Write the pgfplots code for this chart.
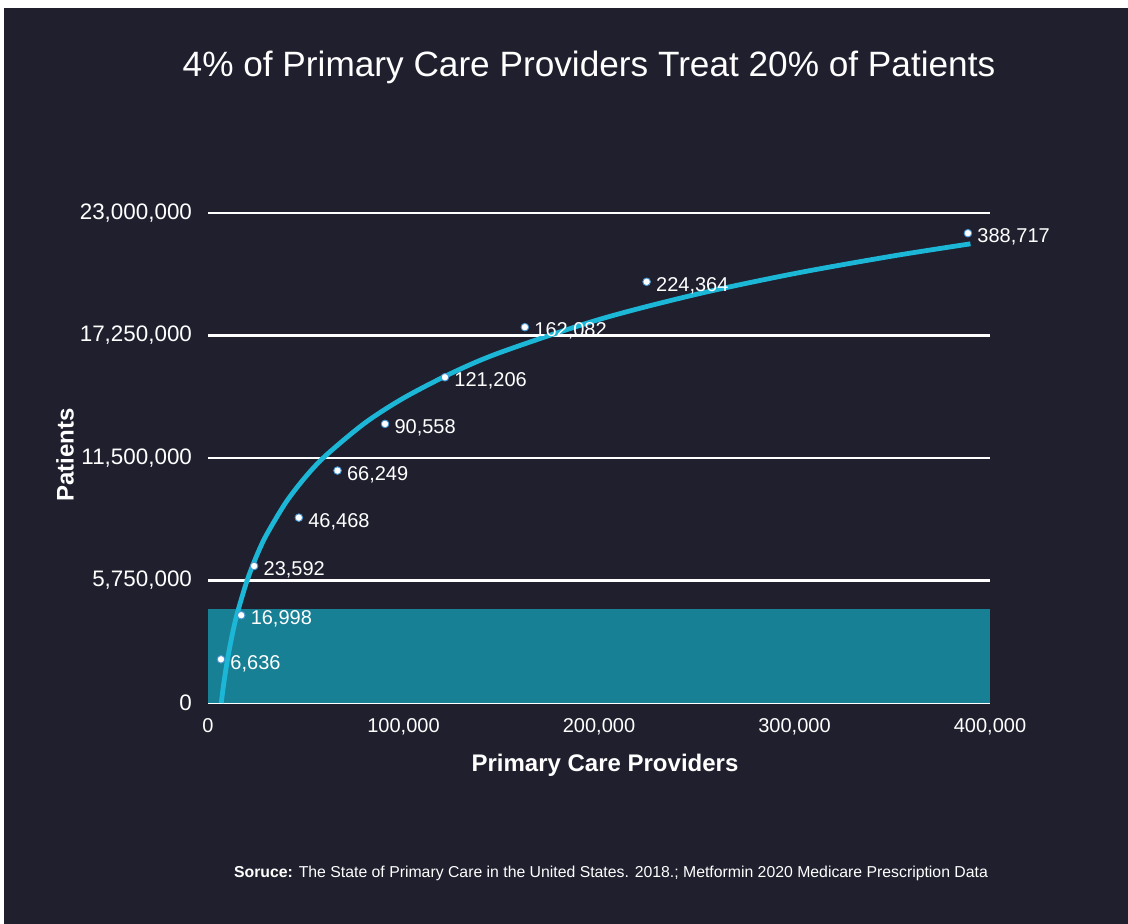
\documentclass[border=0pt]{standalone}
\usepackage{pgfplots}
\pgfplotsset{compat=1.18}
\usepackage{fontspec}
\setmainfont{Liberation Sans}
\definecolor{bg}{RGB}{31,31,46}
\definecolor{tealbox}{RGB}{24,128,148}
\definecolor{curvec}{RGB}{28,182,214}
\definecolor{markedge}{RGB}{70,150,210}
\begin{document}
\begin{tikzpicture}[x=1pt,y=1pt]
\fill[white] (0,0) rectangle (564,462);
\fill[bg] (2,0) rectangle (564,458);
\begin{axis}[
  at={(104pt,110.5pt)}, anchor=south west,
  scale only axis, width=391pt, height=245pt,
  xmin=0, xmax=400000, ymin=0, ymax=23000000,
  axis line style={draw=none},
  tick style={draw=none},
  xtick={0,100000,200000,300000,400000},
  ytick={0,5750000,11500000,17250000,23000000},
  scaled x ticks=false, scaled y ticks=false,
  /pgf/number format/fixed,
  /pgf/number format/1000 sep={,},
  /pgf/number format/assume math mode=true,
  ymajorgrids, grid style={white, line width=1.1pt},
  ticklabel style={font=\fontsize{10}{12}\selectfont, text=white},
  xticklabel style={yshift=-4pt},
  yticklabel style={xshift=-4.5pt, font=\fontsize{11.2}{13}\selectfont},
  clip=false,
]
\addplot[fill=tealbox, draw=none] coordinates {(0,4400000) (400000,4400000)} \closedcycle;
\addplot[curvec, line width=2.4pt, smooth] coordinates {
(6786,0) (8000,876000) (10000,2063000) (12500,3250000) (15000,4220000)
(20000,5750000) (25000,6937000) (30000,7908000) (40000,9438000)
(50000,10625000) (60000,11595000) (80000,13126000) (100000,14312000)
(125000,15500000) (150000,16470000) (200000,18000000) (250000,19187000)
(300000,20157000) (350000,20977000) (390000,21553000)};
\addplot[only marks, mark=*, mark size=1.9pt,
  mark options={fill=white, draw=markedge, line width=0.45pt},
  nodes near coords, point meta=explicit symbolic,
  nodes near coords style={anchor=west, font=\fontsize{10}{12}\selectfont, text=white, xshift=1.2pt, yshift=-2pt}]
  table[meta=label] {
x y label
6636 2050000 6,636
16998 4120000 16,998
23592 6430000 23,592
46468 8700000 46,468
66249 10910000 66,249
90558 13100000 90,558
121206 15290000 121,206
162082 17640000 162,082
224364 19770000 224,364
388717 22050000 388,717
};
\end{axis}
\node[text=white, font=\fontsize{17.6}{20}\selectfont] at (294.5,428.5) {4\% of Primary Care Providers Treat 20\% of Patients};
\node[text=white, font=\bfseries\fontsize{12}{14}\selectfont] at (302.5,79.5) {Primary Care Providers};
\node[text=white, rotate=90, font=\bfseries\fontsize{12}{14}\selectfont] at (32.5,234.5) {Patients};
\node[text=white, font=\fontsize{7.9}{9}\selectfont] at (305.5,25.5) {\textbf{Soruce:} The State of Primary Care in the United States. 2018.; Metformin 2020 Medicare Prescription Data};
\end{tikzpicture}
\end{document}
